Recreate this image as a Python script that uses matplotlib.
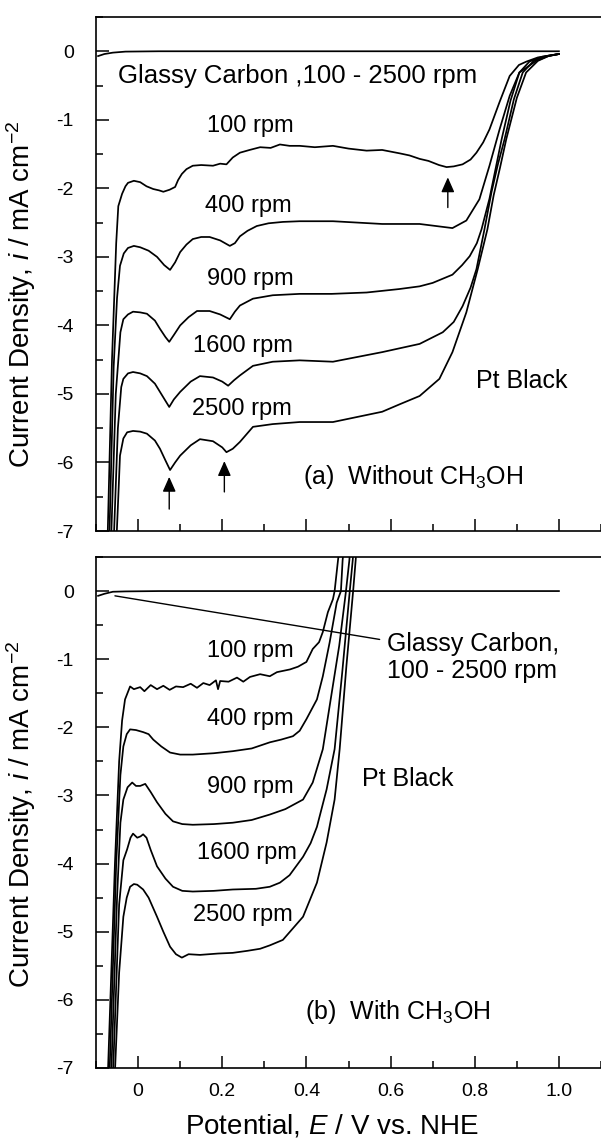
#
#   RDE polarization curves, Pt black / glassy carbon
#   (a) without CH3OH, (b) with CH3OH
#
import matplotlib
matplotlib.use('Agg')
import matplotlib.pyplot as plt
from matplotlib.ticker import MultipleLocator

plt.rcParams['font.family'] = ['Liberation Sans', 'DejaVu Sans']
plt.rcParams['mathtext.fontset'] = 'custom'
plt.rcParams['mathtext.rm'] = 'Liberation Sans'
plt.rcParams['mathtext.it'] = 'Liberation Sans:italic'
plt.rcParams['axes.unicode_minus'] = False

#############################################################
# data  (E / V vs NHE , i / mA cm-2)
RPM = ['100', '400', '900', '1600', '2500']

# ---- (a) without CH3OH
A_GC_E = [-0.095, -0.08, -0.06, -0.03, 0.05, 1.0]
A_GC_I = [-0.07, -0.04, -0.02, -0.005, 0.0, 0.0]

A_100_E = [-0.074, -0.062, -0.052, -0.047, -0.038, -0.030, -0.024, -0.010, 0.005, 0.020,
           0.036, 0.050, 0.060, 0.075, 0.088, 0.095, 0.104, 0.115, 0.130, 0.150,
           0.178, 0.195, 0.210, 0.225, 0.242, 0.265, 0.290, 0.315, 0.337, 0.360,
           0.384, 0.420, 0.463, 0.500, 0.543, 0.580, 0.622, 0.645, 0.669, 0.690,
           0.715, 0.733, 0.750, 0.771, 0.790, 0.804, 0.820, 0.835, 0.859, 0.883,
           0.905, 0.923, 0.950, 0.970, 1.000]
A_100_I = [-7.5, -4.5, -2.8, -2.26, -2.08, -1.97, -1.92, -1.89, -1.91, -1.97,
           -2.01, -2.03, -2.05, -2.02, -1.98, -1.88, -1.79, -1.72, -1.67, -1.66,
           -1.67, -1.64, -1.65, -1.55, -1.48, -1.44, -1.40, -1.41, -1.36, -1.38,
           -1.38, -1.40, -1.38, -1.42, -1.45, -1.44, -1.49, -1.52, -1.57, -1.60,
           -1.66, -1.69, -1.68, -1.65, -1.58, -1.48, -1.33, -1.14, -0.74, -0.36,
           -0.20, -0.15, -0.09, -0.07, -0.04]

A_400_E = [-0.070, -0.058, -0.050, -0.043, -0.034, -0.024, -0.010, 0.005, 0.025, 0.045,
           0.062, 0.076, 0.088, 0.100, 0.115, 0.130, 0.150, 0.170, 0.195, 0.218,
           0.230, 0.242, 0.260, 0.282, 0.310, 0.344, 0.384, 0.463, 0.580, 0.669,
           0.747, 0.780, 0.811, 0.835, 0.859, 0.883, 0.906, 0.946, 0.975, 1.000]
A_400_I = [-7.5, -4.6, -3.6, -3.13, -2.95, -2.87, -2.84, -2.86, -2.91, -3.00,
           -3.12, -3.19, -3.08, -2.93, -2.82, -2.74, -2.71, -2.71, -2.76, -2.84,
           -2.80, -2.70, -2.62, -2.55, -2.51, -2.49, -2.48, -2.48, -2.52, -2.52,
           -2.58, -2.47, -2.16, -1.67, -1.14, -0.65, -0.31, -0.14, -0.07, -0.04]

A_900_E = [-0.066, -0.053, -0.042, -0.035, -0.024, -0.012, 0.005, 0.021, 0.040, 0.052,
           0.065, 0.074, 0.085, 0.100, 0.120, 0.140, 0.170, 0.195, 0.218, 0.230,
           0.242, 0.273, 0.320, 0.384, 0.460, 0.543, 0.620, 0.669, 0.700, 0.747,
           0.770, 0.788, 0.805, 0.816, 0.835, 0.850, 0.864, 0.885, 0.906, 0.930,
           0.960, 1.000]
A_900_I = [-7.5, -5.0, -4.1, -3.91, -3.84, -3.80, -3.81, -3.83, -3.93, -4.05,
           -4.17, -4.24, -4.14, -4.00, -3.88, -3.79, -3.79, -3.84, -3.91, -3.80,
           -3.71, -3.61, -3.56, -3.54, -3.54, -3.52, -3.47, -3.43, -3.38, -3.26,
           -3.12, -2.99, -2.80, -2.60, -2.15, -1.70, -1.28, -0.72, -0.31, -0.15,
           -0.08, -0.04]

A_1600_E = [-0.060, -0.048, -0.040, -0.035, -0.024, -0.012, 0.005, 0.021, 0.040, 0.052,
            0.065, 0.074, 0.085, 0.100, 0.125, 0.147, 0.178, 0.200, 0.214, 0.228,
            0.242, 0.273, 0.320, 0.384, 0.463, 0.580, 0.669, 0.724, 0.750, 0.771,
            0.790, 0.804, 0.823, 0.840, 0.855, 0.871, 0.893, 0.914, 0.940, 0.970,
            1.000]
A_1600_I = [-7.5, -5.5, -4.9, -4.78, -4.70, -4.68, -4.70, -4.74, -4.85, -4.97,
            -5.10, -5.19, -5.08, -4.97, -4.82, -4.74, -4.76, -4.82, -4.88, -4.80,
            -4.73, -4.59, -4.53, -4.51, -4.53, -4.39, -4.27, -4.10, -3.95, -3.72,
            -3.45, -3.18, -2.60, -2.05, -1.65, -1.28, -0.70, -0.31, -0.14, -0.07,
            -0.04]

A_2500_E = [-0.054, -0.047, -0.043, -0.035, -0.026, -0.012, 0.005, 0.021, 0.040, 0.052,
            0.065, 0.076, 0.088, 0.100, 0.125, 0.147, 0.178, 0.200, 0.210, 0.225,
            0.242, 0.273, 0.320, 0.384, 0.463, 0.580, 0.622, 0.669, 0.716, 0.747,
            0.780, 0.807, 0.830, 0.845, 0.860, 0.875, 0.900, 0.922, 0.950, 0.975,
            1.000]
A_2500_I = [-7.5, -6.5, -5.9, -5.65, -5.56, -5.54, -5.55, -5.58, -5.68, -5.80,
            -5.97, -6.11, -6.00, -5.90, -5.75, -5.66, -5.69, -5.78, -5.85, -5.80,
            -5.70, -5.48, -5.44, -5.41, -5.41, -5.26, -5.15, -5.03, -4.78, -4.39,
            -3.81, -3.18, -2.60, -2.10, -1.70, -1.28, -0.68, -0.31, -0.14, -0.07,
            -0.04]

# arrows (tip E, tip i, tail i)
A_ARROW_E   = [0.074, 0.205, 0.736]
A_ARROW_TIP = [-6.21, -5.98, -1.84]
A_ARROW_END = [-6.68, -6.43, -2.28]

# ---- (b) with CH3OH
B_GC_E = [-0.095, -0.08, -0.06, -0.03, 0.05, 1.0]
B_GC_I = [-0.07, -0.04, -0.01, -0.005, 0.0, 0.0]

B_100_E = [-0.074, -0.055, -0.045, -0.038, -0.031, -0.019, -0.010, 0.005, 0.015, 0.030,
           0.045, 0.060, 0.075, 0.090, 0.107, 0.125, 0.140, 0.155, 0.170, 0.185,
           0.190, 0.195, 0.215, 0.235, 0.250, 0.266, 0.290, 0.313, 0.330, 0.361,
           0.380, 0.400, 0.415, 0.430, 0.439, 0.451, 0.463, 0.467, 0.475, 0.480]
B_100_I = [-7.5, -4.0, -2.5, -1.9, -1.59, -1.40, -1.44, -1.41, -1.47, -1.38,
           -1.44, -1.39, -1.45, -1.40, -1.41, -1.36, -1.42, -1.35, -1.38, -1.31,
           -1.44, -1.32, -1.33, -1.27, -1.33, -1.26, -1.22, -1.25, -1.19, -1.15,
           -1.11, -1.04, -0.85, -0.75, -0.60, -0.31, -0.12, 0.0, 0.45, 0.7]

B_400_E = [-0.070, -0.052, -0.042, -0.035, -0.027, -0.019, -0.005, 0.012, 0.025, 0.036,
           0.055, 0.076, 0.100, 0.130, 0.180, 0.225, 0.270, 0.313, 0.340, 0.368,
           0.384, 0.400, 0.425, 0.439, 0.455, 0.472, 0.482, 0.486, 0.490]
B_400_I = [-7.5, -4.0, -2.7, -2.28, -2.10, -2.03, -2.04, -2.07, -2.10, -2.18,
           -2.28, -2.37, -2.40, -2.40, -2.38, -2.35, -2.31, -2.22, -2.18, -2.13,
           -2.05, -1.88, -1.59, -1.25, -0.76, -0.17, 0.0, 0.45, 0.7]

B_900_E = [-0.066, -0.050, -0.042, -0.035, -0.025, -0.014, -0.005, 0.005, 0.017, 0.030,
           0.045, 0.065, 0.083, 0.105, 0.130, 0.180, 0.225, 0.270, 0.313, 0.350,
           0.392, 0.415, 0.439, 0.460, 0.478, 0.494, 0.502, 0.505]
B_900_I = [-7.5, -4.5, -3.4, -3.06, -2.88, -2.81, -2.86, -2.86, -2.83, -2.95,
           -3.10, -3.27, -3.38, -3.42, -3.43, -3.42, -3.40, -3.36, -3.28, -3.20,
           -3.06, -2.81, -2.32, -1.50, -0.80, 0.0, 0.45, 0.7]

B_1600_E = [-0.062, -0.045, -0.035, -0.026, -0.018, -0.012, -0.002, 0.006, 0.012, 0.020,
            0.030, 0.045, 0.065, 0.083, 0.105, 0.130, 0.180, 0.225, 0.280, 0.313,
            0.337, 0.360, 0.392, 0.410, 0.425, 0.448, 0.467, 0.485, 0.503, 0.510,
            0.513]
B_1600_I = [-7.5, -4.6, -3.95, -3.79, -3.62, -3.56, -3.62, -3.60, -3.57, -3.62,
            -3.80, -4.04, -4.22, -4.34, -4.40, -4.41, -4.40, -4.38, -4.37, -4.34,
            -4.28, -4.17, -3.90, -3.70, -3.46, -2.91, -2.32, -1.20, 0.0, 0.45,
            0.7]

B_2500_E = [-0.058, -0.045, -0.035, -0.027, -0.019, -0.010, -0.002, 0.012, 0.025, 0.045,
            0.060, 0.076, 0.090, 0.104, 0.120, 0.147, 0.190, 0.225, 0.260, 0.290,
            0.313, 0.344, 0.392, 0.425, 0.448, 0.467, 0.479, 0.495, 0.511, 0.517,
            0.520]
B_2500_I = [-7.5, -5.6, -4.78, -4.50, -4.34, -4.30, -4.31, -4.38, -4.50, -4.78,
            -5.00, -5.22, -5.33, -5.38, -5.33, -5.34, -5.32, -5.31, -5.28, -5.25,
            -5.20, -5.12, -4.78, -4.28, -3.69, -3.06, -2.32, -1.10, 0.0, 0.45,
            0.7]

XTICKS = [0.0, 0.2, 0.4, 0.6, 0.8, 1.0]
XTICK_LABELS = ['0', '0.2', '0.4', '0.6', '0.8', '1.0']
YTICKS = [0, -1, -2, -3, -4, -5, -6, -7]
YTICK_LABELS = ['0', '-1', '-2', '-3', '-4', '-5', '-6', '-7']

YLABEL = 'Current Density, $i$ / mA cm$^{\\mathregular{-2}}$'
XLABEL = 'Potential, $E$ / V vs. NHE'

LW = 1.25


#############################################################
def SetupAxes(ax, show_xlabels):
    ax.set_xlim(-0.1, 1.1)
    ax.set_ylim(-7, 0.5)
    ax.spines['right'].set_visible(False)
    for s in ('left', 'top', 'bottom'):
        ax.spines[s].set_linewidth(1.2)
    ax.set_xticks(XTICKS)
    ax.set_xticklabels(XTICK_LABELS if show_xlabels else [])
    ax.set_yticks(YTICKS)
    ax.set_yticklabels(YTICK_LABELS)
    ax.xaxis.set_minor_locator(MultipleLocator(0.1))
    ax.yaxis.set_minor_locator(MultipleLocator(0.5))
    ax.tick_params(which='both', direction='in', top=False, right=False,
                   labelsize=14, width=1.1)
    ax.tick_params(which='major', length=9)
    ax.tick_params(which='minor', length=5)
    ax.tick_params(axis='x', pad=11)
    ax.tick_params(axis='y', pad=16)
    ax.set_ylabel(YLABEL, fontsize=20)


#############################################################
def Arrow(ax, e, tip, end):
    ax.annotate('', xy=(e, tip), xytext=(e, end),
                arrowprops=dict(arrowstyle='-|>,head_length=0.9,head_width=0.4',
                                color='k', lw=1.0, shrinkA=0, shrinkB=0,
                                mutation_scale=10))


#############################################################
def PlotPanelA(ax):
    ax.plot(A_GC_E, A_GC_I, 'k-', lw=LW)
    for e, i in ((A_100_E, A_100_I), (A_400_E, A_400_I), (A_900_E, A_900_I),
                 (A_1600_E, A_1600_I), (A_2500_E, A_2500_I)):
        ax.plot(e, i, 'k-', lw=LW)
    for e, tip, end in zip(A_ARROW_E, A_ARROW_TIP, A_ARROW_END):
        Arrow(ax, e, tip, end)
    ax.text(-0.047, -0.36, 'Glassy Carbon ,100 - 2500 rpm', fontsize=18.5, va='center')
    lab_pos = [(0.163, -1.09), (0.159, -2.26), (0.163, -3.32), (0.130, -4.30), (0.128, -5.22)]
    for r, (x, y) in zip(RPM, lab_pos):
        ax.text(x, y, f'{r} rpm', fontsize=17, va='center')
    ax.text(0.804, -4.81, 'Pt Black', fontsize=18, va='center')
    ax.text(0.392, -6.21, '(a)  Without CH$_{\\mathregular{3}}$OH', fontsize=18, va='center')
    SetupAxes(ax, False)
    ax.yaxis.set_label_coords(-0.115, 0.461)


#############################################################
def PlotPanelB(ax):
    ax.plot(B_GC_E, B_GC_I, 'k-', lw=LW)
    for e, i in ((B_100_E, B_100_I), (B_400_E, B_400_I), (B_900_E, B_900_I),
                 (B_1600_E, B_1600_I), (B_2500_E, B_2500_I)):
        ax.plot(e, i, 'k-', lw=LW)
    # leader line from the glassy carbon curve to its label
    ax.annotate('', xy=(-0.055, -0.07), xytext=(0.574, -0.71),
                arrowprops=dict(arrowstyle='-', color='k', lw=1.0,
                                shrinkA=0, shrinkB=0))
    ax.text(0.591, -0.98, 'Glassy Carbon,\n100 - 2500 rpm', fontsize=18,
            va='center', linespacing=1.15)
    lab_pos = [(0.163, -0.88), (0.163, -1.88), (0.163, -2.88), (0.140, -3.84), (0.131, -4.75)]
    for r, (x, y) in zip(RPM, lab_pos):
        ax.text(x, y, f'{r} rpm', fontsize=17, va='center')
    ax.text(0.531, -2.76, 'Pt Black', fontsize=18, va='center')
    ax.text(0.396, -6.18, '(b)  With CH$_{\\mathregular{3}}$OH', fontsize=18, va='center')
    SetupAxes(ax, True)
    ax.yaxis.set_label_coords(-0.115, 0.496)
    ax.set_xlabel(XLABEL, fontsize=20)
    ax.xaxis.set_label_coords(0.467, -0.088)
    ax.xaxis.label.set_va('top')


#####################################################################
if __name__ == "__main__":
    fig = plt.figure(figsize=(6.01, 11.40), dpi=100)
    ax_a = fig.add_axes([96/601, 1-531/1140, 505/601, 514/1140])
    ax_b = fig.add_axes([96/601, 1-1068/1140, 505/601, 511/1140])
    PlotPanelA(ax_a)
    PlotPanelB(ax_b)
    fig.savefig('out.png', dpi=100)
